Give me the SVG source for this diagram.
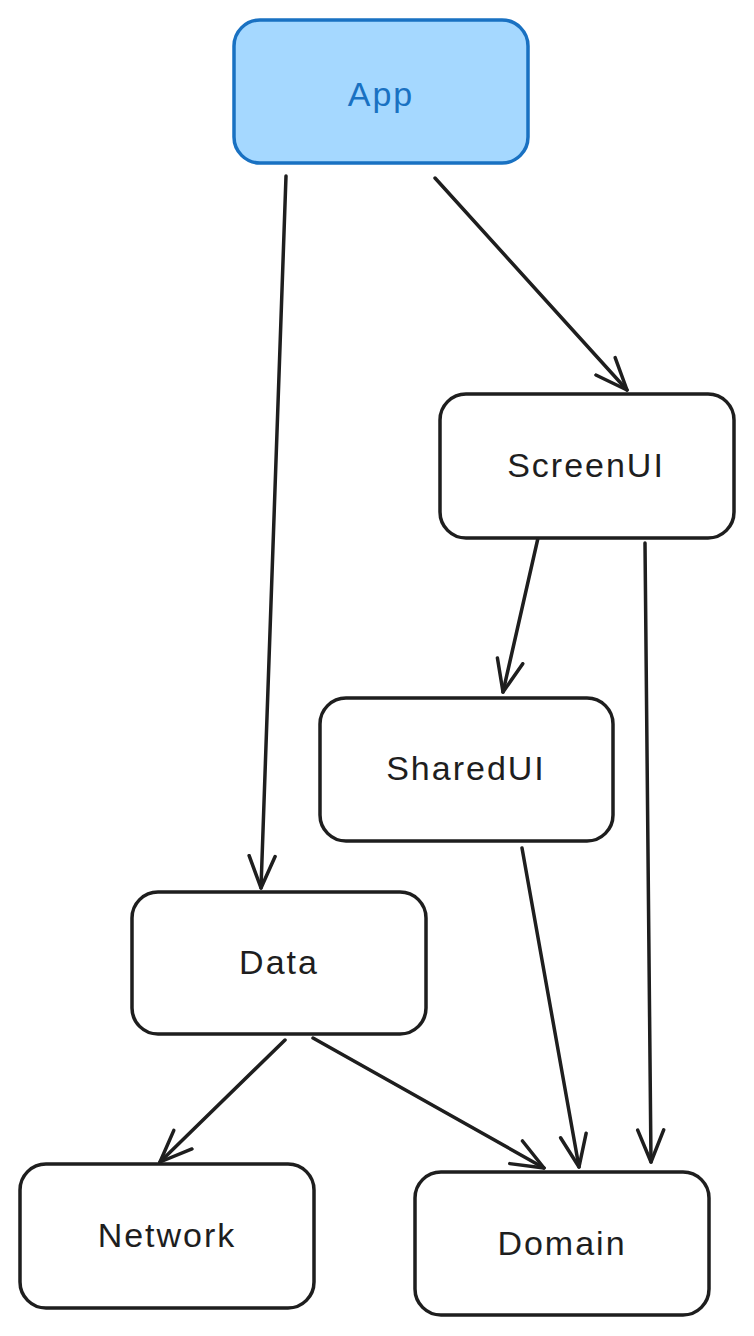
<svg xmlns="http://www.w3.org/2000/svg" width="754" height="1336" viewBox="0 0 754 1336">
<style>
.box{fill:#ffffff;stroke:#1e1e1e;stroke-width:3.5}
.app{fill:#a5d8ff;stroke:#1971c2;stroke-width:3.5}
.lbl{font-family:"Liberation Sans",Arial,sans-serif;font-size:34px;letter-spacing:2px;fill:#1e1e1e;text-anchor:middle;dominant-baseline:central}
.edge{fill:none;stroke:#1e1e1e;stroke-width:3.5;stroke-linecap:round}
</style>
<defs>
<marker id="arr" markerWidth="44" markerHeight="36" refX="34" refY="18" orient="auto" markerUnits="userSpaceOnUse" viewBox="0 0 44 36">
<path d="M2,5 L34,18 L2,31" fill="none" stroke="#1e1e1e" stroke-width="3.5" stroke-linecap="round" stroke-linejoin="round"/>
</marker>
</defs>
<g id="connectors">
<line class="edge" x1="286" y1="176" x2="261" y2="888" marker-end="url(#arr)"/>
<line class="edge" x1="435" y1="178" x2="627" y2="390" marker-end="url(#arr)"/>
<line class="edge" x1="538" y1="538" x2="503" y2="692" marker-end="url(#arr)"/>
<line class="edge" x1="645" y1="543" x2="651" y2="1162" marker-end="url(#arr)"/>
<line class="edge" x1="522" y1="848" x2="579" y2="1167" marker-end="url(#arr)"/>
<line class="edge" x1="285" y1="1040" x2="160" y2="1162" marker-end="url(#arr)"/>
<line class="edge" x1="313" y1="1038" x2="544" y2="1168" marker-end="url(#arr)"/>
</g>
<g id="node-app">
<rect class="app" x="234" y="20" width="294" height="143" rx="26"/>
<text class="lbl" x="381" y="94" style="fill:#1971c2">App</text>
</g>
<g id="node-screenui">
<rect class="box" x="440" y="394" width="294" height="144" rx="26"/>
<text class="lbl" x="586" y="465">ScreenUI</text>
</g>
<g id="node-sharedui">
<rect class="box" x="320" y="698" width="293" height="143" rx="26"/>
<text class="lbl" x="466" y="768">SharedUI</text>
</g>
<g id="node-data">
<rect class="box" x="132" y="892" width="294" height="142" rx="26"/>
<text class="lbl" x="279" y="962">Data</text>
</g>
<g id="node-network">
<rect class="box" x="20" y="1164" width="294" height="144" rx="26"/>
<text class="lbl" x="167" y="1235">Network</text>
</g>
<g id="node-domain">
<rect class="box" x="415" y="1172" width="294" height="143" rx="26"/>
<text class="lbl" x="562" y="1243">Domain</text>
</g>
</svg>
